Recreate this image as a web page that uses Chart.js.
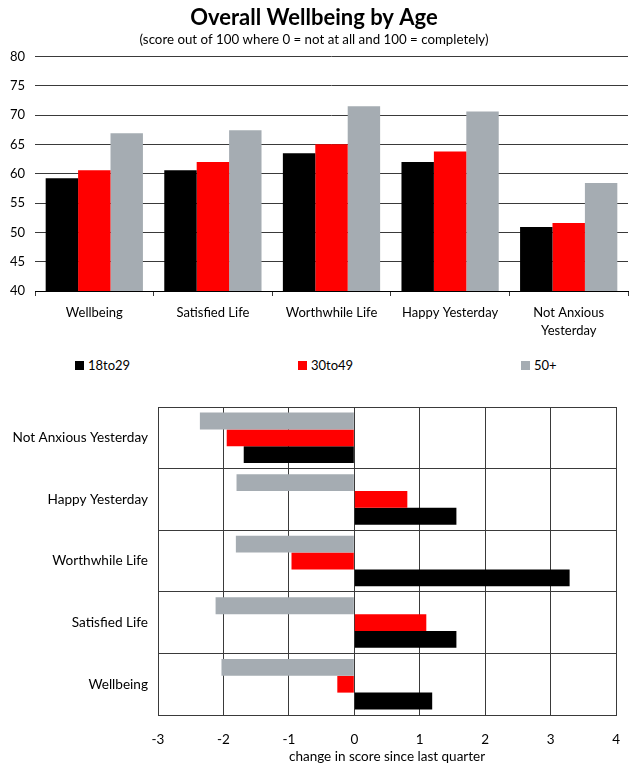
<!DOCTYPE html>
<html>
<head>
<meta charset="utf-8">
<script src="https://cdn.jsdelivr.net/npm/chart.js@4.4.1/dist/chart.umd.min.js"></script>
<style>
    body { margin: 0; background: #fff; font-family: Lato, sans-serif; }
    #wrap { position: relative; width: 637px; height: 765px; }
    #topBox { position: absolute; left: 0; top: 0; width: 637px; height: 345px; }
    #bottomBox { position: absolute; left: 0; top: 380px; width: 637px; height: 385px; }
    #legend { position: absolute; left: 75px; top: 356px; height: 18px; display: flex; font-size: 13px; color: #000; }
    .item { width: 223px; display: flex; align-items: center; }
    .swatch { width: 9px; height: 9px; margin-right: 4px; }
</style>
</head>
<body>
<div id="wrap">
    <div id="topBox"><canvas id="levelChart"></canvas></div>
    <div id="legend"></div>
    <div id="bottomBox"><canvas id="changeChart"></canvas></div>
</div>
<script>
// Datos
const categories = ['Wellbeing', 'Satisfied Life', 'Worthwhile Life', 'Happy Yesterday', 'Not Anxious Yesterday'];
const seriesNames = ['18to29', '30to49', '50+'];
const score18to29 = [59.2, 60.6, 63.5, 62.0, 50.9];
const score30to49 = [60.6, 62.0, 65.0, 63.8, 51.6];
const score50plus = [66.9, 67.4, 71.5, 70.6, 58.4];
const change18to29 = [1.19, 1.56, 3.29, 1.56, -1.69];
const change30to49 = [-0.26, 1.10, -0.96, 0.81, -1.95];
const change50plus = [-2.03, -2.12, -1.81, -1.80, -2.36];
const scoreTicks = [40, 45, 50, 55, 60, 65, 70, 75, 80];
const changeTicks = [-3, -2, -1, 0, 1, 2, 3, 4];

const BLACK = '#000000';
const RED = '#ff0000';
const GREY = '#a5acb2';
const GRID = '#3a3a3a';
const FONT = 'Lato';

Chart.defaults.font.family = FONT;
Chart.defaults.color = '#000';

// Leyenda compartida
const legend = document.getElementById('legend');
[BLACK, RED, GREY].forEach((c, i) => {
    const item = document.createElement('div');
    item.className = 'item';
    item.innerHTML = `<span class="swatch" style="background:${c}"></span><span>${seriesNames[i]}</span>`;
    legend.appendChild(item);
});

// Niveles (barra vertical)
const topLabels = categories.map(c => c === 'Not Anxious Yesterday' ? ['Not Anxious', 'Yesterday'] : c);
new Chart(document.getElementById('levelChart'), {
    type: 'bar',
    data: {
        labels: topLabels,
        datasets: [
            { label: seriesNames[0], data: score18to29, backgroundColor: BLACK },
            { label: seriesNames[1], data: score30to49, backgroundColor: RED },
            { label: seriesNames[2], data: score50plus, backgroundColor: GREY }
        ]
    },
    options: {
        responsive: true,
        maintainAspectRatio: false,
        animation: false,
        layout: { padding: { left: 0, right: 9, top: 0, bottom: 0 } },
        datasets: { bar: { categoryPercentage: 0.82, barPercentage: 1 } },
        plugins: {
            legend: { display: false },
            tooltip: { enabled: false },
            title: {
                display: true,
                text: 'Overall Wellbeing by Age',
                font: { size: 22, weight: 'bold' },
                color: '#000',
                padding: { top: 5, bottom: 0 }
            },
            subtitle: {
                display: true,
                text: '(score out of 100 where 0 = not at all and 100 = completely)',
                font: { size: 13.3 },
                color: '#000',
                padding: { bottom: 9 }
            }
        },
        scales: {
            x: {
                afterFit: (s) => { s.height = 54; },
                grid: { display: true, drawOnChartArea: false, drawTicks: true, tickLength: 5, color: GRID },
                border: { display: true, color: '#000' },
                ticks: { font: { size: 13, lineHeight: 1.35 }, padding: 8, maxRotation: 0, autoSkip: false }
            },
            y: {
                min: scoreTicks[0],
                max: scoreTicks[scoreTicks.length - 1],
                afterFit: (s) => { s.width = 35; },
                afterBuildTicks: (s) => { s.ticks = scoreTicks.map(v => ({ value: v })); },
                grid: { color: GRID, drawTicks: false },
                border: { display: false },
                ticks: { font: { size: 13 }, padding: 10 }
            }
        }
    }
});

// Cambio trimestral (barra horizontal)
const bottomLabels = categories.slice().reverse();
new Chart(document.getElementById('changeChart'), {
    type: 'bar',
    data: {
        labels: bottomLabels,
        datasets: [
            { label: seriesNames[2], data: change50plus.slice().reverse(), backgroundColor: GREY },
            { label: seriesNames[1], data: change30to49.slice().reverse(), backgroundColor: RED },
            { label: seriesNames[0], data: change18to29.slice().reverse(), backgroundColor: BLACK }
        ]
    },
    options: {
        indexAxis: 'y',
        responsive: true,
        maintainAspectRatio: false,
        animation: false,
        layout: { padding: { left: 0, right: 19, top: 27, bottom: 0 } },
        datasets: { bar: { categoryPercentage: 0.82, barPercentage: 1 } },
        plugins: {
            legend: { display: false },
            tooltip: { enabled: false }
        },
        scales: {
            x: {
                min: changeTicks[0],
                max: changeTicks[changeTicks.length - 1],
                afterBuildTicks: (s) => { s.ticks = changeTicks.map(v => ({ value: v })); },
                afterFit: (s) => { s.height = 50; },
                grid: { color: GRID, drawTicks: false },
                border: { display: true, color: GRID },
                ticks: { font: { size: 13.5 }, padding: 17 },
                title: { display: true, text: 'change in score since last quarter', font: { size: 13.5 }, padding: { top: 5, bottom: 0 } }
            },
            y: {
                afterFit: (s) => { s.width = 158; },
                grid: { color: GRID, drawTicks: false, offset: true },
                border: { display: true, color: GRID },
                ticks: { font: { size: 13.6 }, padding: 10 }
            }
        }
    }
});
</script>
</body>
</html>
